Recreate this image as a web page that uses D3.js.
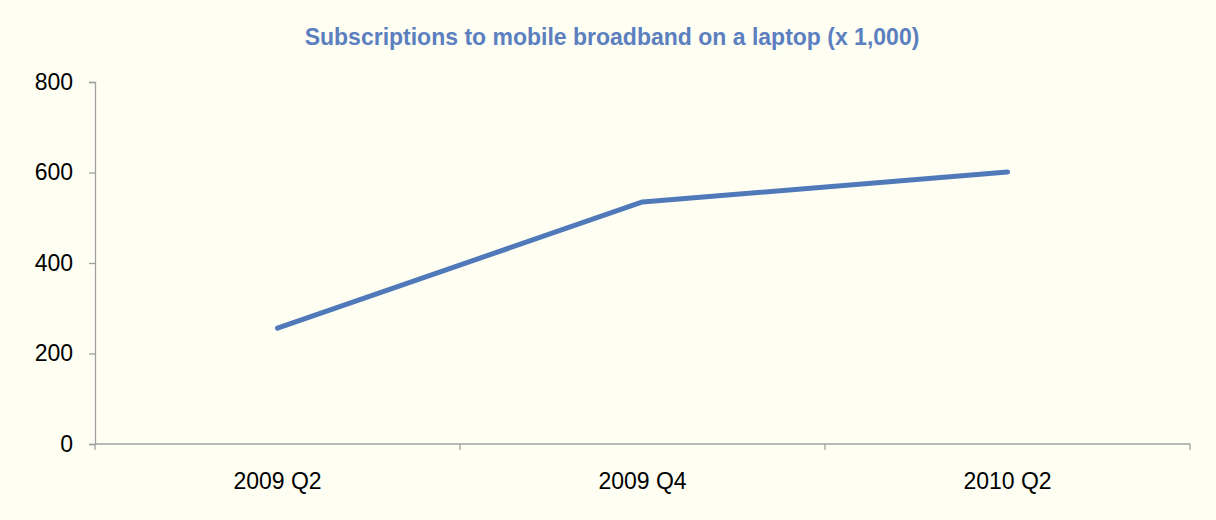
<!DOCTYPE html>
<html>
<head>
<meta charset="utf-8">
<script src="https://cdn.jsdelivr.net/npm/d3@7"></script>
<style>
  html, body { margin: 0; padding: 0; background: #fefef3; }
  svg { display: block; }
</style>
</head>
<body>
<svg id="chart" width="1216" height="520"></svg>
<script>
// Quarterly laptop mobile broadband subscriptions, in thousands
const quarters = ["2009 Q2", "2009 Q4", "2010 Q2"];
const subscriptions = [256, 535, 601];
const yTicks = [0, 200, 400, 600, 800];
const chartTitle = "Subscriptions to mobile broadband on a laptop (x 1,000)";

const W = 1216, H = 520;
const margin = { left: 95, right: 26, top: 82, bottom: 76 };

const svg = d3.select("#chart");
svg.append("rect").attr("width", W).attr("height", H).attr("fill", "#fefef3");

const x = d3.scaleBand()
  .domain(quarters)
  .range([margin.left, W - margin.right])
  .paddingInner(0).paddingOuter(0);

const y = d3.scaleLinear()
  .domain([0, 800])
  .range([H - margin.bottom, margin.top]);

const axisColor = "#a0a0a0";
const font = "'Liberation Sans', Arial, sans-serif";
const labelSize = 23;

// Y axis
const yAxis = svg.append("g")
  .attr("transform", `translate(${margin.left},0)`)
  .call(d3.axisLeft(y).tickValues(yTicks).tickSize(6).tickPadding(16).tickFormat(d3.format("d")));
yAxis.select(".domain").attr("stroke", axisColor).attr("stroke-width", 1.3);
yAxis.selectAll(".tick line").attr("stroke", axisColor).attr("stroke-width", 1.3);
yAxis.selectAll("text").attr("font-family", font).attr("font-size", labelSize).attr("fill", "#000");

// X axis with ticks at category boundaries
const xAxisG = svg.append("g")
  .attr("transform", `translate(0,${y(0)})`);
xAxisG.append("line")
  .attr("x1", margin.left).attr("x2", W - margin.right)
  .attr("y1", 0).attr("y2", 0)
  .attr("stroke", axisColor).attr("stroke-width", 1.3);
const boundaries = quarters.map(q => x(q)).concat([x(quarters[quarters.length - 1]) + x.bandwidth()]);
xAxisG.selectAll("line.bound")
  .data(boundaries)
  .join("line")
  .attr("class", "bound")
  .attr("x1", d => d).attr("x2", d => d)
  .attr("y1", 0).attr("y2", 6)
  .attr("stroke", axisColor).attr("stroke-width", 1.3);
xAxisG.selectAll("text")
  .data(quarters)
  .join("text")
  .attr("x", d => x(d) + x.bandwidth() / 2)
  .attr("y", 45)
  .attr("text-anchor", "middle")
  .attr("font-family", font)
  .attr("font-size", labelSize)
  .attr("fill", "#000")
  .text(d => d);

// Series line
const line = d3.line()
  .x((d, i) => x(quarters[i]) + x.bandwidth() / 2)
  .y(d => y(d));

svg.append("path")
  .datum(subscriptions)
  .attr("d", line)
  .attr("fill", "none")
  .attr("stroke", "#5079ba")
  .attr("stroke-width", 5)
  .attr("stroke-linecap", "round")
  .attr("stroke-linejoin", "round");

// Title
svg.append("text")
  .attr("x", 612)
  .attr("y", 45)
  .attr("text-anchor", "middle")
  .attr("font-family", font)
  .attr("font-size", 23)
  .attr("font-weight", "bold")
  .attr("fill", "#5b7fbf")
  .text(chartTitle);
</script>
</body>
</html>
